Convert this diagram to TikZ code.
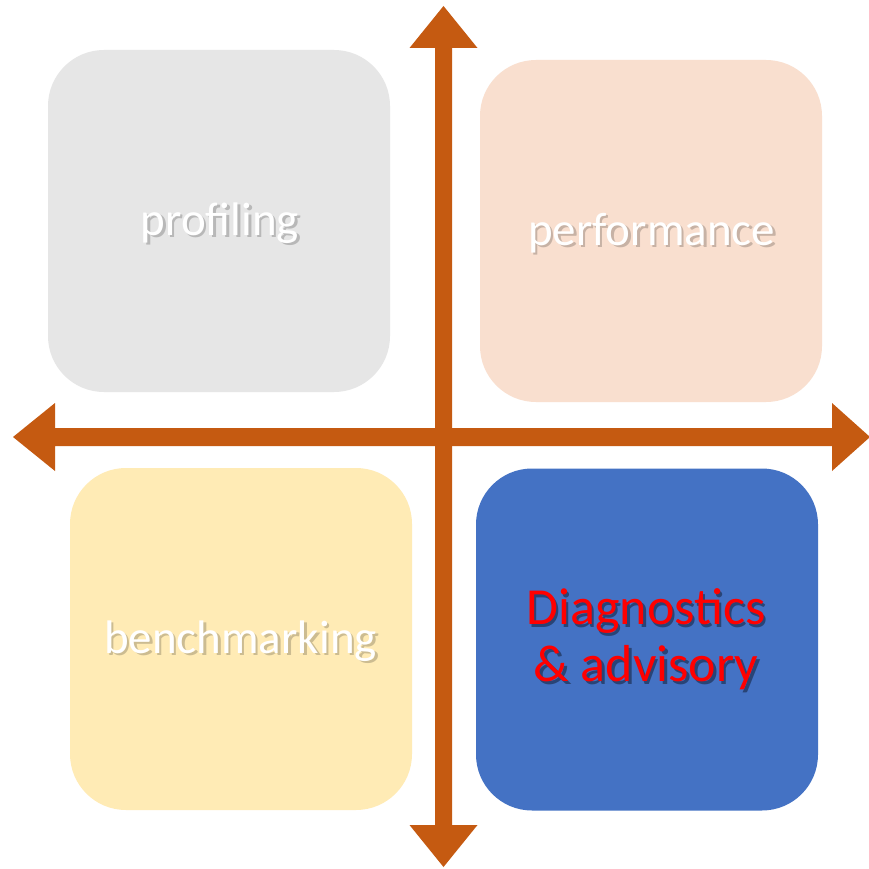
\documentclass[tikz,border=0pt]{standalone}
\usepackage{fontspec}
\setmainfont{Carlito}
\definecolor{axisc}{HTML}{C55A11}
\definecolor{grayc}{HTML}{E6E6E6}
\definecolor{peachc}{HTML}{F9DFCF}
\definecolor{yellowc}{HTML}{FFEBB5}
\definecolor{bluec}{HTML}{4472C4}
\definecolor{redc}{HTML}{FF0000}
\newcommand\shtext[2]{\makebox[0pt][l]{\kern2.5pt\raisebox{-2.5pt}{\textcolor{#1}{#2}}}#2}
\tikzset{
  quad/.style={rounded corners=56pt, minimum width=342pt, minimum height=342pt, inner sep=0pt, draw=none},
  lbl/.style={inner sep=0pt, anchor=base, text=white, font=\fontsize{47}{57}\selectfont},
  biglbl/.style={inner sep=0pt, align=center, text=redc, font=\fontsize{52}{57}\selectfont},
  axis/.style={fill=axisc, draw=none}
}
\begin{document}
\begin{tikzpicture}[x=1pt,y=-1pt]
\useasboundingbox (0,0) rectangle (868,869);
\fill[white] (0,0) rectangle (868,869);
% quadrant boxes
\node[quad, fill=grayc]   (q1) at (219,221) {};
\node[quad, fill=peachc]  (q2) at (651,231) {};
\node[quad, fill=yellowc] (q3) at (241,639) {};
\node[quad, fill=bluec]   (q4) at (647,639.5) {};
% axes
\coordinate (vtop) at (443.5,6);
\coordinate (vbot) at (443.5,867);
\coordinate (hleft) at (13,437);
\coordinate (hright) at (870,437);
\fill[axis] (vtop) -- (477.5,48) -- (452,48) -- (452,825) -- (477.5,825) -- (vbot)
  -- (409.5,825) -- (435,825) -- (435,48) -- (409.5,48) -- cycle;
\fill[axis] (hleft) -- (55,403) -- (55,428) -- (832,428) -- (832,403) -- (hright)
  -- (832,471) -- (832,446) -- (55,446) -- (55,471) -- cycle;
% labels with soft shadows
\node[lbl] (t1) at (220,235) {\shtext{grayc!80!black}{profiling}};
\node[lbl] (t2) at (651.5,245) {\shtext{peachc!80!black}{performance}};
\node[lbl] (t3) at (240.5,653) {\shtext{yellowc!80!black}{benchmarking}};
\node[biglbl] (t4) at (646,640.5) {\shtext{bluec!60!black}{Diagnostics}\\\shtext{bluec!60!black}{\& advisory}};
\end{tikzpicture}
\end{document}
